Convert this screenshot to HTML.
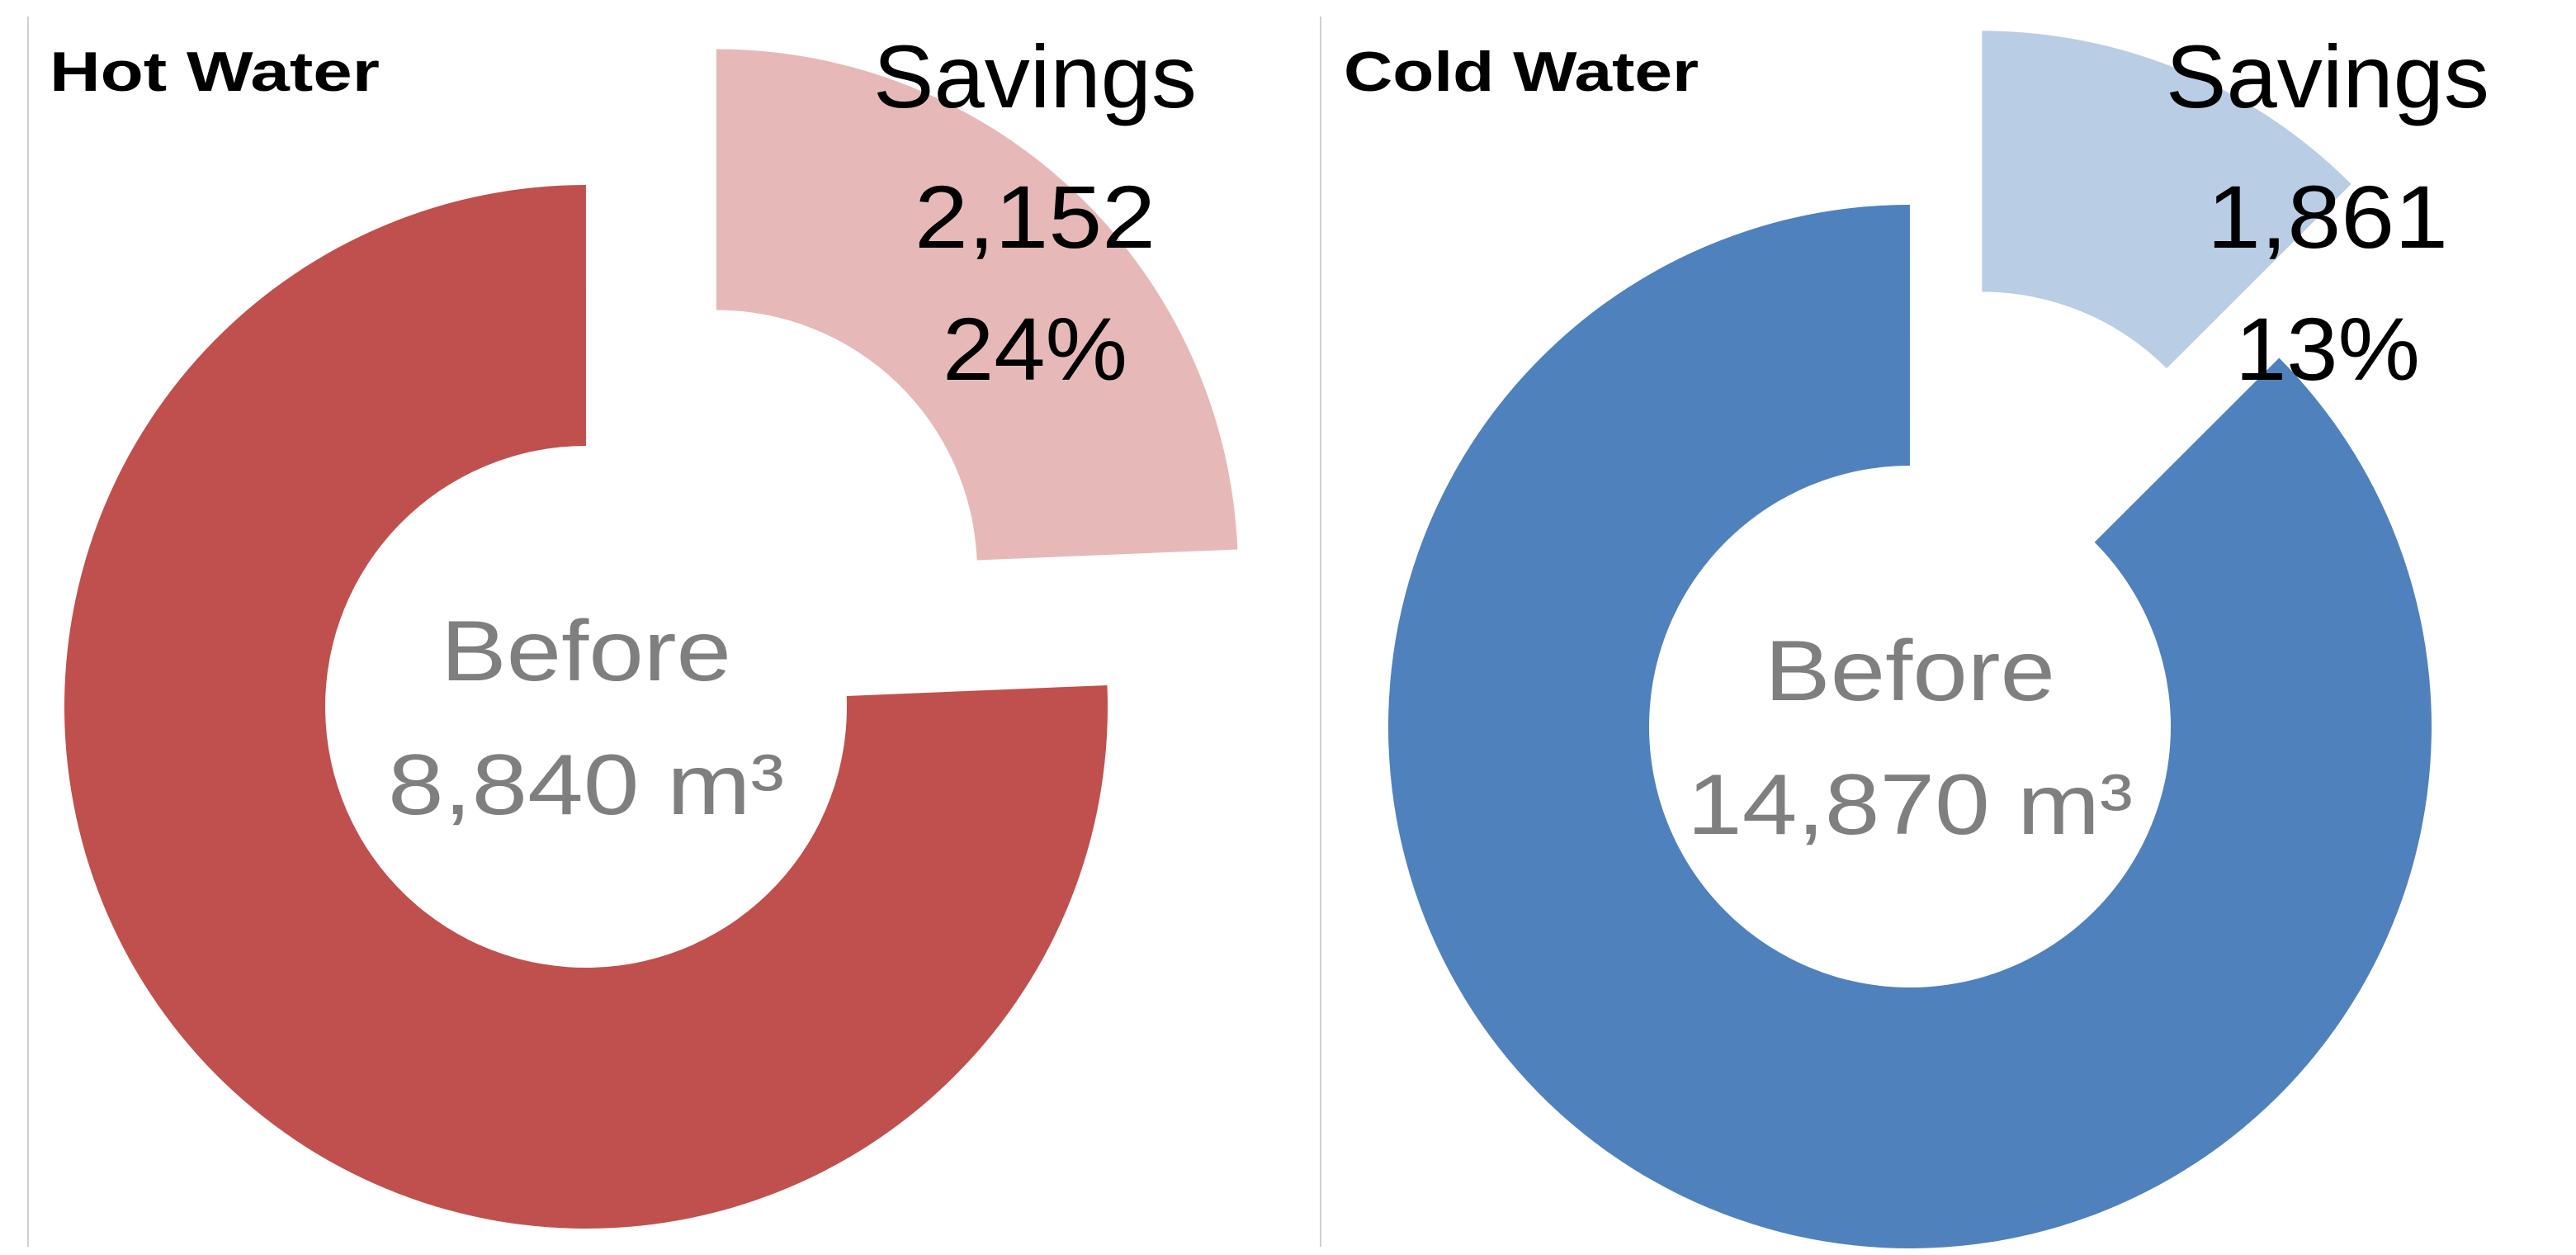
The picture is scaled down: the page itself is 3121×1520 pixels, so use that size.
<!DOCTYPE html>
<html><head><meta charset="utf-8"><style>
html,body{margin:0;padding:0;background:#fff;}
svg{display:block;}
text{font-family:"Liberation Sans",sans-serif;}
</style></head><body>
<svg id="chart" width="3121" height="1520" viewBox="0 0 1560.5 760" xmlns="http://www.w3.org/2000/svg">
<line x1="17" y1="10" x2="17" y2="755" stroke="#d0d0d0" stroke-width="1"/>
<line x1="800" y1="10" x2="800" y2="755" stroke="#d0d0d0" stroke-width="1"/>
<text x="30" y="55" font-size="34" font-weight="bold" textLength="200" lengthAdjust="spacingAndGlyphs">Hot Water</text>
<text x="814" y="55" font-size="34" font-weight="bold" textLength="215" lengthAdjust="spacingAndGlyphs">Cold Water</text>
<g id="marks"></g>
</svg>
<script>
const titles = ["hot", "cold"];
const beforeVals = [8840, 14870];
const savingsVals = [2152, 1861];
const beforeLabels = ["8,840", "14,870"];
const savingsLabels = ["2,152", "1,861"];
const mainColors = ["#C0504D", "#4F81BD"];
const lightColors = ["#E6B9B8", "#B9CDE5"];
const centers = [[355, 428], [1157, 440]];
const labelX = [627, 1410];
const R = 316, r = 158, explode = 114;
const NS = "http://www.w3.org/2000/svg";
const g = document.getElementById("marks");
function pt(cx, cy, rad, a){ return [cx + rad*Math.sin(a), cy - rad*Math.cos(a)]; }
function arc(cx, cy, a0, a1){
  const large = (a1 - a0) > Math.PI ? 1 : 0;
  const p1 = pt(cx,cy,R,a0), p2 = pt(cx,cy,R,a1), p3 = pt(cx,cy,r,a1), p4 = pt(cx,cy,r,a0);
  return `M${p1[0]},${p1[1]} A${R},${R} 0 ${large} 1 ${p2[0]},${p2[1]} L${p3[0]},${p3[1]} A${r},${r} 0 ${large} 0 ${p4[0]},${p4[1]} Z`;
}
function txt(x, y, s, size, fill, w){
  const t = document.createElementNS(NS, "text");
  t.setAttribute("x", x); t.setAttribute("y", y);
  t.setAttribute("text-anchor", "middle");
  t.setAttribute("font-size", size); t.setAttribute("fill", fill);
  if (w) { t.setAttribute("textLength", w); t.setAttribute("lengthAdjust", "spacingAndGlyphs"); }
  t.textContent = s;
  g.appendChild(t);
  return t;
}
titles.forEach((name, i) => {
  const [cx, cy] = centers[i];
  const ang = savingsVals[i] / beforeVals[i] * 2 * Math.PI;
  const main = document.createElementNS(NS, "path");
  main.setAttribute("d", arc(cx, cy, ang, 2*Math.PI - 0.0001));
  main.setAttribute("fill", mainColors[i]);
  
  
  g.appendChild(main);
  const mid = ang / 2;
  const ox = cx + explode*Math.sin(mid), oy = cy - explode*Math.cos(mid);
  const sav = document.createElementNS(NS, "path");
  sav.setAttribute("d", arc(ox, oy, 0, ang));
  sav.setAttribute("fill", lightColors[i]);
  
  
  g.appendChild(sav);
  const pct = Math.round(savingsVals[i] / beforeVals[i] * 100) + "%";
  const t1 = txt(labelX[i], 65, "Savings", 54, "#000", 196);
  
  
  const t2 = txt(labelX[i], 150, savingsLabels[i], 54, "#000", 146);
  
  
  const t3 = txt(labelX[i], 230, pct, 54, "#000", 112);
  
  
  const t4 = txt(cx, cy - 16, "Before", 52, "#7f7f7f", 176);
  
  
  const t5 = txt(cx, cy + 65, beforeLabels[i] + " m³", 52, "#7f7f7f", i === 0 ? 240 : 270);
  
  
});
</script>
</body></html>
